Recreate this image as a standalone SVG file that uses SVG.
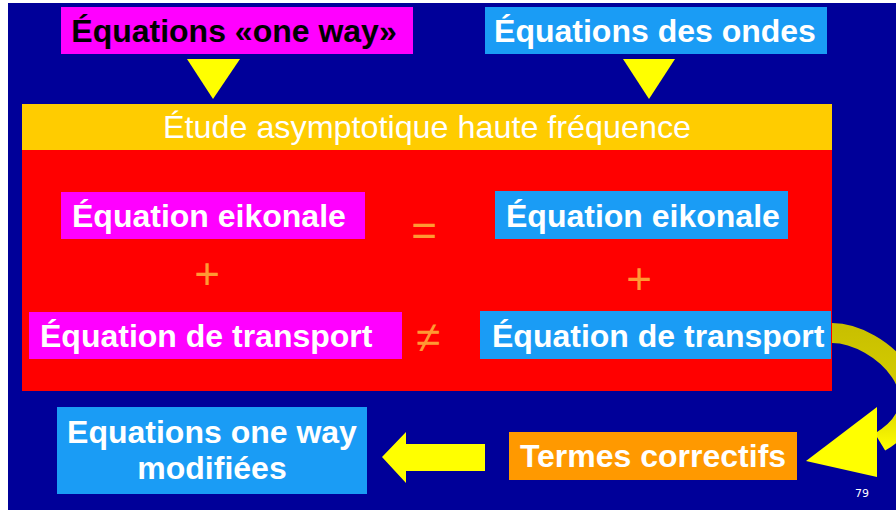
<svg xmlns="http://www.w3.org/2000/svg" width="896" height="510" viewBox="0 0 896 510">
<defs>
<style>
.t{font-family:"Liberation Sans",Arial,Helvetica,sans-serif;font-weight:bold;font-size:32px;fill:#ffffff}
.dark{fill:#000000}
.sym{font-family:"Liberation Sans","DejaVu Sans",sans-serif;font-size:44px;fill:#ff9933;text-anchor:middle}
.mag{fill:#ff00ff}
.cyan{fill:#1a9cf5}
.arr{fill:#ffff00}
</style>
<linearGradient id="shaft" gradientUnits="userSpaceOnUse" x1="0" y1="330" x2="0" y2="450">
<stop offset="0" stop-color="#c9c000"/>
<stop offset="0.6" stop-color="#d8d000"/>
<stop offset="1" stop-color="#ffff00"/>
</linearGradient>
</defs>
<rect x="0" y="0" width="896" height="510" fill="#ffffff"/>
<rect x="8" y="3" width="888" height="507" fill="#000099"/>

<g id="frame">
<rect x="22" y="104" width="810" height="46" fill="#ffcc00"/>
<rect x="22" y="150" width="810" height="241" fill="#ff0000"/>
<text x="427" y="138" text-anchor="middle" font-family="Liberation Sans, Arial, sans-serif" font-size="32" fill="#ffffff" textLength="528" lengthAdjust="spacingAndGlyphs">Étude asymptotique haute fréquence</text>
</g>

<g id="oneway">
<rect class="mag" x="61" y="7" width="352" height="47"/>
<text class="t dark" x="234" y="42" text-anchor="middle">Équations «one way»</text>
</g>
<g id="ondes">
<rect class="cyan" x="485" y="7" width="342" height="47"/>
<text class="t" x="655" y="42" text-anchor="middle">Équations des ondes</text>
</g>

<g id="eik-left">
<rect class="mag" x="61" y="192" width="304" height="47"/>
<text class="t" x="72" y="227">Équation eikonale</text>
</g>
<g id="eik-right">
<rect class="cyan" x="495" y="191" width="293" height="48"/>
<text class="t" x="506" y="227">Équation eikonale</text>
</g>
<g id="trans-left">
<rect class="mag" x="29" y="312" width="373" height="47"/>
<text class="t" x="40" y="347">Équation de transport</text>
</g>
<g id="trans-right">
<rect class="cyan" x="480" y="311" width="351" height="48"/>
<text class="t" x="492" y="347">Équation de transport</text>
</g>

<g id="symbols">
<text class="sym" x="207" y="289">+</text>
<text class="sym" x="639" y="294">+</text>
<text class="sym" x="424" y="246">=</text>
<text class="sym" x="428" y="352">≠</text>
</g>

<g id="modifiees">
<rect class="cyan" x="57" y="407" width="310" height="87"/>
<text class="t" x="212" y="443" text-anchor="middle" font-size="30">Equations one way</text>
<text class="t" x="212" y="479" text-anchor="middle" font-size="30">modifiées</text>
</g>
<g id="correctifs">
<rect x="509" y="432" width="288" height="48" fill="#ff9900"/>
<text class="t" x="653" y="467" text-anchor="middle">Termes correctifs</text>
</g>

<g id="connectors">
<polygon class="arr" points="187,59 240,59 213,99"/>
<polygon class="arr" points="623,59 675,59 649,99"/>
<polygon class="arr" points="382,457 406,432 406,444 485,444 485,471 406,471 406,483"/>
<path d="M832 333 C880 333 950 400 880 442" fill="none" stroke="url(#shaft)" stroke-width="20"/>
<polygon class="arr" points="806,461 877,407 877,477"/>
</g>

<text x="855" y="497" font-family="DejaVu Sans, sans-serif" font-size="11" fill="#ffffff">79</text>
</svg>
